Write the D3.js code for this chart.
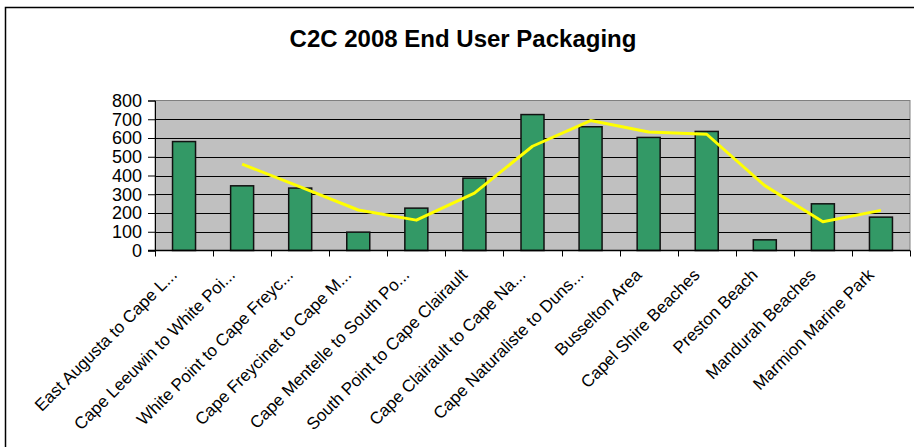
<!DOCTYPE html>
<html>
<head>
<meta charset="utf-8">
<script src="https://cdn.jsdelivr.net/npm/d3@7"></script>
<style>
  html, body { margin: 0; padding: 0; background: #fff; }
  svg { display: block; }
  text { font-family: Arial, "Liberation Sans", sans-serif; fill: #000; }
</style>
</head>
<body>
<svg id="chart" width="914" height="447"></svg>
<script>
const categories = [
  "East Augusta to Cape L...",
  "Cape Leeuwin to White Poi...",
  "White Point to Cape Freyc...",
  "Cape Freycinet to Cape M...",
  "Cape Mentelle to South Po...",
  "South Point to Cape Clairault",
  "Cape Clairault to Cape Na...",
  "Cape Naturaliste to Duns...",
  "Busselton Area",
  "Capel Shire Beaches",
  "Preston Beach",
  "Mandurah Beaches",
  "Marmion Marine Park"
];
const barValues = [581, 345, 333, 98, 226, 386, 725, 660, 603, 635, 57, 249, 178];
// trend line (starts at 2nd category)
const trendCategories = categories.slice(1);
const trendValues = [461, 339, 216, 162, 306, 556, 693, 632, 620, 346, 153, 214];
const yTicks = [0, 100, 200, 300, 400, 500, 600, 700, 800];
const title = "C2C 2008 End User Packaging";

const svg = d3.select("#chart");
const plot = { left: 155, right: 910, top: 100.5, bottom: 250.5 };

// outer frame
svg.append("rect")
  .attr("x", 5.5).attr("y", 7.5).attr("width", 930).attr("height", 460)
  .attr("fill", "#fff").attr("stroke", "#000").attr("stroke-width", 1.5);

svg.append("text")
  .attr("x", 463).attr("y", 47)
  .attr("text-anchor", "middle")
  .attr("font-size", 24).attr("font-weight", "bold")
  .text(title);

const x = d3.scaleBand().domain(categories).range([plot.left, plot.right]).paddingInner(0).paddingOuter(0);
const y = d3.scaleLinear().domain([0, 800]).range([plot.bottom, plot.top]);

// plot background
svg.append("rect")
  .attr("x", plot.left).attr("y", plot.top)
  .attr("width", plot.right - plot.left).attr("height", plot.bottom - plot.top)
  .attr("fill", "#C0C0C0").attr("stroke", "#808080").attr("stroke-width", 1);

// gridlines
svg.append("g").selectAll("line").data(yTicks.filter(d => d > 0 && d < 800)).join("line")
  .attr("x1", plot.left).attr("x2", plot.right)
  .attr("y1", d => Math.round(y(d)) + 0.5).attr("y2", d => Math.round(y(d)) + 0.5)
  .attr("stroke", "#000").attr("stroke-width", 1);

// bars
const bw = 23;
svg.append("g").selectAll("rect").data(barValues).join("rect")
  .attr("x", (d, i) => x(categories[i]) + x.bandwidth() / 2 - bw / 2)
  .attr("y", d => y(d))
  .attr("width", bw)
  .attr("height", d => y(0) - y(d))
  .attr("fill", "#339966").attr("stroke", "#111").attr("stroke-width", 1.5);

// trend line
const line = d3.line()
  .x((d, i) => x(trendCategories[i]) + x.bandwidth() / 2)
  .y(d => y(d));
svg.append("path").datum(trendValues)
  .attr("d", line)
  .attr("fill", "none").attr("stroke", "#FFFF00").attr("stroke-width", 3)
  .attr("stroke-linejoin", "round");

// y axis
const yAxis = d3.axisLeft(y).tickValues(yTicks).tickSize(7).tickPadding(6);
const gy = svg.append("g").attr("transform", `translate(${plot.left},0)`).call(yAxis);
gy.select(".domain").attr("stroke", "#000");
gy.selectAll(".tick line").attr("stroke", "#000");
gy.selectAll(".tick text").attr("font-size", 18).attr("font-family", "Arial, 'Liberation Sans', sans-serif").attr("fill", "#000");

// x axis line and ticks at category boundaries
const boundaries = categories.map(c => x(c)).concat([plot.right]);
svg.append("line")
  .attr("x1", plot.left - 7).attr("x2", plot.right)
  .attr("y1", plot.bottom).attr("y2", plot.bottom)
  .attr("stroke", "#000").attr("stroke-width", 1.5);
svg.append("g").selectAll("line").data(boundaries).join("line")
  .attr("x1", d => Math.round(d) + 0.5).attr("x2", d => Math.round(d) + 0.5)
  .attr("y1", plot.bottom).attr("y2", plot.bottom + 6)
  .attr("stroke", "#000");

// x labels rotated -45
svg.append("g").selectAll("text").data(categories).join("text")
  .attr("transform", d => `translate(${x(d) + x.bandwidth() / 2 - 6},${276}) rotate(-45)`)
  .attr("text-anchor", "end")
  .attr("font-size", 17)
  .text(d => d);
</script>
</body>
</html>
